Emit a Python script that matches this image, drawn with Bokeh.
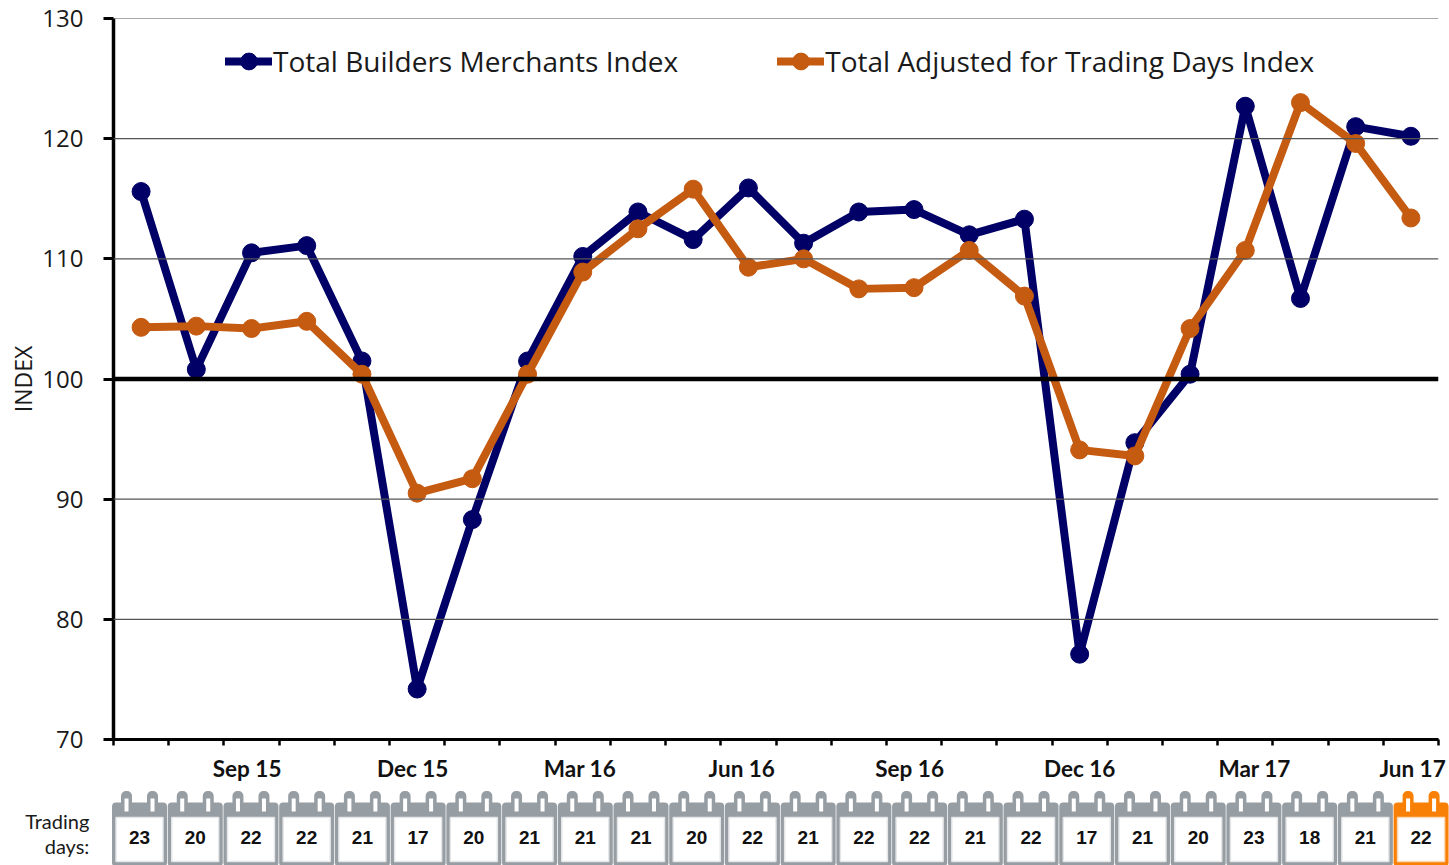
from bokeh.plotting import figure
from bokeh.models import LinearAxis, FixedTicker, Range1d, Legend, LegendItem, Span
from bokeh.layouts import column
from bokeh.core.properties import value
from bokeh.embed import file_html
from bokeh.resources import INLINE

months = list(range(24))
total_index = [115.6, 100.8, 110.5, 111.1, 101.5, 74.2, 88.3, 101.5, 110.2, 113.9, 111.6, 115.9,
               111.3, 113.9, 114.1, 112.0, 113.3, 77.1, 94.7, 100.4, 122.7, 106.7, 121.0, 120.2]
adjusted_index = [104.3, 104.4, 104.2, 104.8, 100.4, 90.5, 91.7, 100.4, 108.9, 112.5, 115.8, 109.3,
                  110.0, 107.5, 107.6, 110.7, 106.9, 94.1, 93.6, 104.2, 110.7, 123.0, 119.6, 113.4]
trading_days = [23, 20, 22, 22, 21, 17, 20, 21, 21, 21, 20, 22,
                21, 22, 22, 21, 22, 17, 21, 20, 23, 18, 21, 22]
y_ticks = [70, 80, 90, 100, 110, 120, 130]
x_labels = ["Sep 15", "Dec 15", "Mar 16", "Jun 16", "Sep 16", "Dec 16", "Mar 17", "Jun 17"]
x_label_pos = [1.92, 4.92, 7.95, 10.88, 13.92, 17.0, 20.17, 23.03]
boundaries = [i - 0.5 for i in range(25)]

NAVY = "#000066"
ORANGE = "#C55A11"
GREY = "#969DA3"
CAL_ORANGE = "#F98006"
TEXT = "#1a1a1a"

p = figure(width=1449, height=789, x_range=Range1d(-0.5, 23.5), y_range=Range1d(70, 130),
           output_backend="svg", toolbar_location=None, x_axis_type=None, y_axis_type=None,
           min_border_left=113, min_border_right=11, min_border_top=18, min_border_bottom=50,
           outline_line_color=None, background_fill_color="white", frame_align=False)

yaxis = LinearAxis(ticker=FixedTicker(ticks=y_ticks), axis_label="INDEX",
                   axis_label_text_font="Open Sans", axis_label_text_font_size="23px",
                   axis_label_text_font_style="normal", axis_label_text_color=TEXT,
                   axis_label_standoff=0,
                   major_label_text_font="Open Sans", major_label_text_font_size="24px",
                   major_label_text_color=TEXT, major_label_standoff=20,
                   major_tick_in=0, major_tick_out=10, major_tick_line_width=3,
                   major_tick_line_color="black", minor_tick_line_color=None,
                   axis_line_width=3.5, axis_line_color="black")
p.add_layout(yaxis, "left")

xaxis = LinearAxis(ticker=FixedTicker(ticks=x_label_pos, minor_ticks=boundaries),
                   major_label_overrides=dict(zip(x_label_pos, x_labels)),
                   major_label_text_font="Lato", major_label_text_font_size="22.5px",
                   major_label_text_font_style="bold", major_label_text_color="#111111",
                   major_label_standoff=9, major_tick_line_color=None,
                   major_tick_in=0, major_tick_out=0,
                   minor_tick_in=0, minor_tick_out=6, minor_tick_line_width=2.5,
                   minor_tick_line_color="black", axis_line_width=3, axis_line_color="black")
p.add_layout(xaxis, "below")

for t in y_ticks[1:]:
    if t != 100:
        p.add_layout(Span(location=t, dimension="width", line_color="#555555", line_width=1.2))
p.add_layout(Span(location=100, dimension="width", line_color="black", line_width=4.5))

l1 = p.line(months, total_index, line_color=NAVY, line_width=8, line_join="round", line_cap="round")
c1 = p.scatter(months, total_index, size=18, fill_color=NAVY, line_color=NAVY)
l2 = p.line(months, adjusted_index, line_color=ORANGE, line_width=8, line_join="round", line_cap="round")
c2 = p.scatter(months, adjusted_index, size=18, fill_color=ORANGE, line_color=ORANGE)

legend = Legend(items=[LegendItem(label="Total Builders Merchants Index", renderers=[l1, c1]),
                       LegendItem(label="Total Adjusted for Trading Days Index", renderers=[l2, c2])],
                orientation="horizontal", location=(112, 657), border_line_color=None,
                background_fill_alpha=0, margin=0, padding=0, spacing=99,
                glyph_width=47, glyph_height=42, label_standoff=1,
                label_text_font="Open Sans", label_text_font_size="28px", label_text_color=TEXT)
p.add_layout(legend, "center")

# Calendar strip: y reads top-down in strip pixels, x is the month index
UNIT = 55.72
q = figure(width=1449, height=76, x_range=Range1d(-2.495, 23.51), y_range=Range1d(865, 789),
           output_backend="svg", toolbar_location=None, x_axis_type=None, y_axis_type=None,
           min_border=0, outline_line_color=None, background_fill_color="white", frame_align=False)

colors = [GREY] * 23 + [CAL_ORANGE]
edges = ["#E4E6E8"] * 23 + ["#FAD9B8"]
def screen_rect(dx, y, w, h, fill, radius=0, line=None, lw=0):
    q.rect([m + dx / UNIT for m in months], [y] * 24, width=w, height=h,
           width_units="screen", height_units="screen", fill_color=fill,
           line_color=line, line_width=lw, border_radius=radius)

for dx in (-13, 13):
    screen_rect(dx, 801, 11, 21, colors, radius=5)
screen_rect(0, 834, 55, 64, colors, radius=4)
for dx in (-13, 13):
    screen_rect(dx, 804.5, 4, 13, "white")
screen_rect(0, 839, 47, 44, "white", line=edges, lw=1.5)

q.text(months, [837] * 24, text=[str(v) for v in trading_days], text_align="center", text_baseline="middle",
       text_font=value("Liberation Sans"), text_font_size="19px", text_font_style="bold", text_color="#111111")
q.text([-0.9, -0.9], [820, 845], text=["Trading", "days:"], text_align="right", text_baseline="middle",
       text_font=value("Lato"), text_font_size="20px", text_color=TEXT)

page = column(p, q, spacing=0)
open("out.html", "w").write(file_html(page, INLINE))
